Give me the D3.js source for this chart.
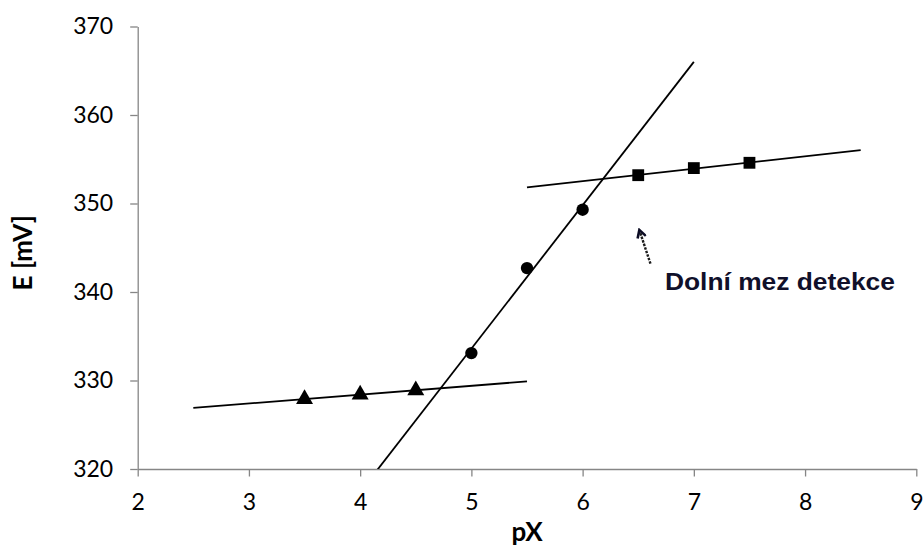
<!DOCTYPE html>
<html>
<head>
<meta charset="utf-8">
<script src="https://cdn.jsdelivr.net/npm/d3@7"></script>
<style>
  body { margin: 0; background: #fff; }
  .axis path, .axis line { stroke: #868686; stroke-width: 1.3px; }
  .axis text { font-family: Lato, "Open Sans", sans-serif; font-size: 23px; fill: #000; }
  .title { font-family: Lato, "Open Sans", sans-serif; font-size: 26px; font-weight: bold; }
</style>
</head>
<body>
<div id="chart"></div>
<script>
// measured points, E [mV] vs pX
var pxLow = [3.5, 4.0, 4.5],
    eLow = [327.9, 328.4, 328.9],
    pxMid = [5.0, 5.5, 6.0],
    eMid = [333.1, 342.7, 349.3],
    pxHigh = [6.5, 7.0, 7.5],
    eHigh = [353.2, 354.0, 354.6];

// x-range over which each trend line is drawn
var trendLow = [2.5, 5.5],
    trendMid = [4.0, 7.0],
    trendHigh = [5.5, 8.5];

var xTicks = [2, 3, 4, 5, 6, 7, 8, 9],
    yTicks = [320, 330, 340, 350, 360, 370];

// annotation: arrow tip, arrow tail, label start (data units)
var noteTip = [6.51, 347.0],
    noteTail = [6.61, 343.2],
    noteText = [6.74, 340.2],
    noteLabel = "Dolní mez detekce";

var width = 924, height = 547,
    margin = {top: 26.5, right: 7.7, bottom: 78, left: 137.7},
    w = width - margin.left - margin.right,
    h = height - margin.top - margin.bottom;

var X = d3.scaleLinear().domain([2, 9]).range([0, w]),
    Y = d3.scaleLinear().domain([320, 370]).range([h, 0]);

var svg = d3.select("#chart").append("svg")
    .attr("width", width).attr("height", height)
    .append("g")
    .attr("transform", "translate(" + margin.left + "," + margin.top + ")");

svg.append("defs").append("clipPath").attr("id", "plot")
    .append("rect").attr("width", w).attr("height", h);

svg.append("g").attr("class", "axis")
    .attr("transform", "translate(0," + h + ")")
    .call(d3.axisBottom(X).tickValues(xTicks).tickFormat(d3.format("d"))
        .tickSize(7.5).tickPadding(17).tickSizeOuter(0));

svg.append("g").attr("class", "axis")
    .call(d3.axisLeft(Y).tickValues(yTicks).tickFormat(d3.format("d"))
        .tickSize(7.5).tickPadding(17).tickSizeOuter(0));

// least squares line
function fit(xs, ys) {
    var mx = d3.mean(xs), my = d3.mean(ys), sxy = 0, sxx = 0;
    for (var i = 0; i < xs.length; i++) {
        sxy += (xs[i] - mx) * (ys[i] - my);
        sxx += (xs[i] - mx) * (xs[i] - mx);
    }
    var b = sxy / sxx;
    return function (x) { return my + b * (x - mx); };
}

var series = [
    {x: pxLow, y: eLow, range: trendLow, symbol: d3.symbolTriangle, size: 125},
    {x: pxMid, y: eMid, range: trendMid, symbol: d3.symbolCircle, size: 120},
    {x: pxHigh, y: eHigh, range: trendHigh, symbol: d3.symbolSquare, size: 140}
];

var lines = svg.append("g").attr("clip-path", "url(#plot)");
series.forEach(function (s) {
    var f = fit(s.x, s.y);
    lines.append("line")
        .attr("x1", X(s.range[0])).attr("y1", Y(f(s.range[0])))
        .attr("x2", X(s.range[1])).attr("y2", Y(f(s.range[1])))
        .attr("stroke", "#000").attr("stroke-width", 1.8);
});

series.forEach(function (s) {
    svg.append("g").selectAll("path")
        .data(s.x)
        .enter().append("path")
        .attr("d", d3.symbol().type(s.symbol).size(s.size))
        .attr("transform", function (d, i) { return "translate(" + X(d) + "," + Y(s.y[i]) + ")"; })
        .attr("fill", "#000");
});

// annotation
svg.append("defs").append("marker")
    .attr("id", "head").attr("viewBox", "0 0 10 10")
    .attr("refX", 8).attr("refY", 5)
    .attr("markerWidth", 4.5).attr("markerHeight", 4.5)
    .attr("orient", "auto")
    .append("path").attr("d", "M1,1 L8,5 L1,9")
    .attr("fill", "none").attr("stroke", "#0c0c24").attr("stroke-width", 2.4);

svg.append("line")
    .attr("x1", X(noteTail[0])).attr("y1", Y(noteTail[1]))
    .attr("x2", X(noteTip[0])).attr("y2", Y(noteTip[1]))
    .attr("stroke", "#1a1a1a").attr("stroke-width", 2.4)
    .attr("stroke-dasharray", "2.5,1.2")
    .attr("marker-end", "url(#head)");

svg.append("text")
    .attr("x", X(noteText[0])).attr("y", Y(noteText[1]))
    .attr("font-family", "'Liberation Sans', Arial, sans-serif")
    .attr("font-size", "24px").attr("font-weight", "bold")
    .attr("fill", "#10102a")
    .attr("textLength", 230).attr("lengthAdjust", "spacingAndGlyphs")
    .text(noteLabel);

// axis titles
svg.append("text").attr("class", "title")
    .attr("x", w / 2).attr("y", h + 72)
    .attr("text-anchor", "middle")
    .text("pX");

svg.append("text").attr("class", "title")
    .attr("transform", "translate(" + (-margin.left + 32) + "," + (h / 2 + 5) + ") rotate(-90)")
    .attr("text-anchor", "middle")
    .text("E [mV]");
</script>
</body>
</html>
